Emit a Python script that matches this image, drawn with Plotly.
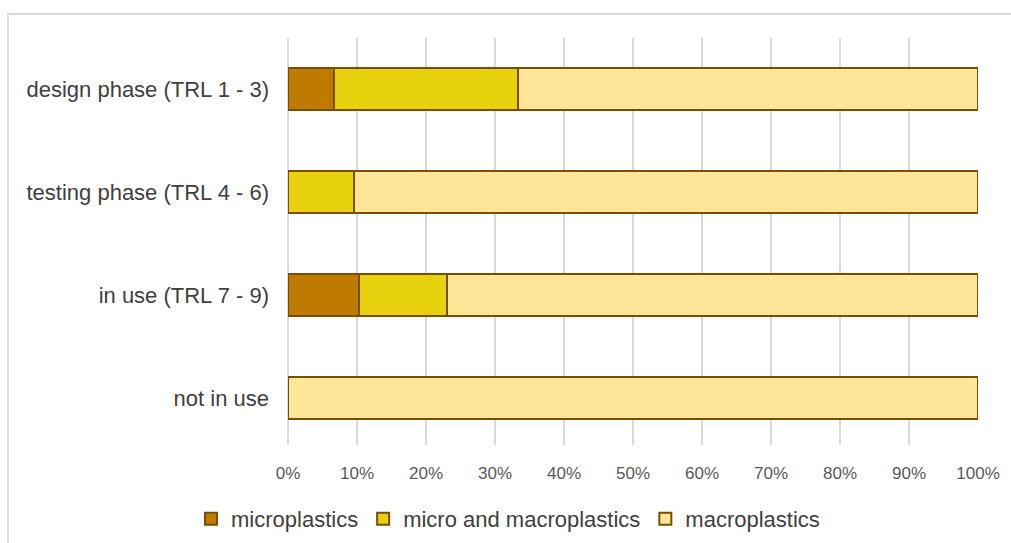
import plotly.graph_objects as go

# Technology readiness stages, listed bottom to top
stages = [
    "not in use",
    "in use (TRL 7 - 9)",
    "testing phase (TRL 4 - 6)",
    "design phase (TRL 1 - 3)",
]

# Share of each plastics category per stage (%)
microplastics = [0.0, 10.3, 0.0, 6.7]
micro_and_macro = [0.0, 12.8, 9.5, 26.6]
macroplastics = [100.0, 76.9, 90.5, 66.7]

series_names = ["microplastics", "micro and macroplastics", "macroplastics"]
series_values = [microplastics, micro_and_macro, macroplastics]
series_colors = ["#BF7B00", "#E8D20E", "#FFE699"]

x_ticks = list(range(0, 101, 10))
x_tick_labels = [f"{v}%" for v in x_ticks]

EDGE = "#7A4E00"
TEXT = "#595959"
GRID = "#D9D9D9"
FONT = "Liberation Sans, Arial, sans-serif"

# Plot area in pixels
W, H = 1011, 543
L, R, T, B = 288, 33, 38, 98
PW, PH = W - L - R, H - T - B


def px_to_paper_x(px):
    return (px - L) / PW


def px_to_paper_y(py):
    return (H - B - py) / PH


fig = go.Figure()
for name, vals, color in zip(series_names, series_values, series_colors):
    fig.add_trace(go.Bar(
        y=stages,
        x=vals,
        name=name,
        orientation="h",
        marker=dict(color=color, line=dict(color=EDGE, width=2)),
        hoverinfo="x+name",
    ))

frame_x = px_to_paper_x(8)
frame_y = px_to_paper_y(14)

fig.update_layout(
    barmode="stack",
    bargap=0.6,
    width=W,
    height=H,
    margin=dict(l=L, r=R, t=T, b=B, autoexpand=False),
    paper_bgcolor="white",
    plot_bgcolor="white",
    font=dict(family=FONT, color=TEXT, size=22),
    showlegend=True,
    legend=dict(
        orientation="h",
        x=px_to_paper_x(508),
        xanchor="center",
        y=px_to_paper_y(519),
        yanchor="middle",
        font=dict(size=22, color="#404040"),
        traceorder="normal",
        itemwidth=30,
    ),
    xaxis=dict(
        range=[0, 100],
        tickvals=x_ticks,
        ticktext=x_tick_labels,
        showgrid=True,
        gridcolor=GRID,
        gridwidth=2,
        zeroline=True,
        zerolinecolor=GRID,
        zerolinewidth=2,
        showline=False,
        ticks="",
        tickfont=dict(size=17, color=TEXT),
        ticklabelstandoff=16,
        fixedrange=True,
    ),
    yaxis=dict(
        categoryorder="array",
        categoryarray=stages,
        range=[-0.456, 3.495],
        showgrid=False,
        zeroline=False,
        showline=False,
        ticks="",
        tickfont=dict(size=22, color="#404040"),
        ticklabelstandoff=18,
        fixedrange=True,
    ),
    shapes=[
        dict(
            type="path",
            xref="paper",
            yref="paper",
            path=f"M {frame_x},-0.4 L {frame_x},{frame_y} L 1.2,{frame_y}",
            line=dict(color=GRID, width=2),
        )
    ],
)

fig.write_html("out.html")
